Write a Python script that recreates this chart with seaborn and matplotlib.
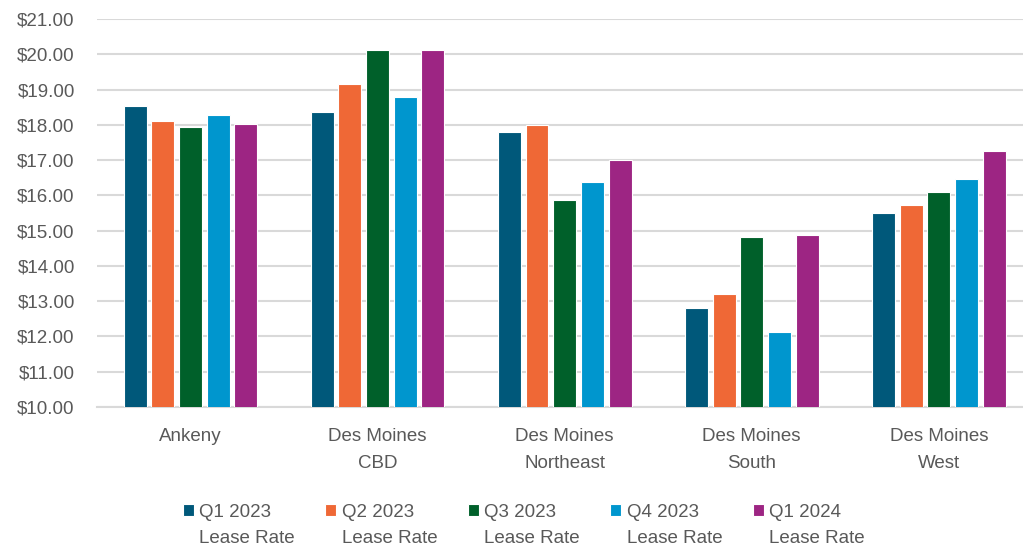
import pandas as pd
import matplotlib.pyplot as plt
import seaborn as sns

# Lease rate data ($/sf)
submarkets = ['Ankeny', 'Des Moines\nCBD', 'Des Moines\nNortheast', 'Des Moines\nSouth', 'Des Moines\nWest']
quarters = ['Q1 2023\nLease Rate', 'Q2 2023\nLease Rate', 'Q3 2023\nLease Rate',
            'Q4 2023\nLease Rate', 'Q1 2024\nLease Rate']
q1_2023 = [18.53, 18.37, 17.79, 12.82, 15.51]
q2_2023 = [18.10, 19.16, 18.00, 13.19, 15.72]
q3_2023 = [17.95, 20.12, 15.88, 14.82, 16.10]
q4_2023 = [18.27, 18.79, 16.37, 12.13, 16.47]
q1_2024 = [18.01, 20.12, 16.99, 14.88, 17.26]
colors = ['#00587A', '#EF6836', '#00602A', '#0096CE', '#9D2583']

# Build a long-format table for seaborn
series = [q1_2023, q2_2023, q3_2023, q4_2023, q1_2024]
rows = []
for q, vals in zip(quarters, series):
    for s, v in zip(submarkets, vals):
        rows.append({'Submarket': s, 'Quarter': q, 'Rate': v})
df = pd.DataFrame(rows)

sns.set_style('white')
plt.rcParams['font.family'] = ['Liberation Sans', 'DejaVu Sans']
text_color = '#595959'

fig = plt.figure(figsize=(10.23, 5.5), dpi=100)
ax = fig.add_axes([97 / 1023, 143 / 550, 926 / 1023, 388 / 550])

sns.barplot(data=df, x='Submarket', y='Rate', hue='Quarter', palette=colors, saturation=1,
            width=0.74, gap=0.17, edgecolor='white', linewidth=0.8, ax=ax, zorder=3)

ax.set_ylim(10, 21)
ax.set_yticks(range(10, 22))
ax.set_yticklabels([f'${v:.2f}' for v in range(10, 22)])
ax.set_xlim(-0.5, 4.45)
ax.grid(axis='y', color='#D9D9D9', linewidth=1.5, zorder=0)
ax.set_axisbelow(True)
for side in ['left', 'right', 'top']:
    ax.spines[side].set_visible(False)
ax.spines['bottom'].set_color('#D9D9D9')
ax.spines['bottom'].set_linewidth(1.5)
ax.set_xlabel('')
ax.set_ylabel('')
ax.tick_params(axis='both', length=0, labelsize=13.5, labelcolor=text_color)
ax.tick_params(axis='x', pad=15)
ax.tick_params(axis='y', pad=16)
for t in ax.get_xticklabels():
    t.set_linespacing(1.75)

handles, labels = ax.get_legend_handles_labels()
ax.legend_.remove()
leg = fig.legend(handles, labels, loc='upper center', bbox_to_anchor=(0.512, 0.115),
                 ncol=5, frameon=False, fontsize=13.5, handlelength=0.6, handleheight=0.6,
                 handletextpad=0.3, columnspacing=1.6, labelcolor=text_color)
for t in leg.get_texts():
    t.set_linespacing(1.75)
# put the color square next to the first line of each label
for col in leg._legend_handle_box.get_children():
    for entry in col.get_children():
        entry.align = 'top'

fig.savefig('out.png', dpi=100)
